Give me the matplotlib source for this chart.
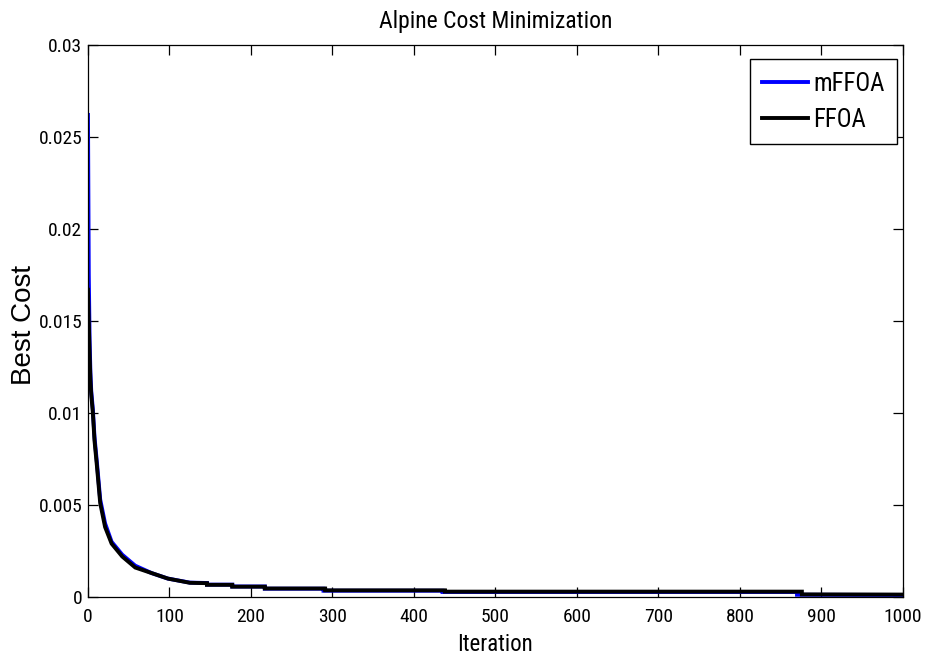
import matplotlib
matplotlib.use("Agg")
import matplotlib.pyplot as plt
from matplotlib import font_manager as fm

# Convergence history (iteration, best cost) for each optimizer
ffoa_iter = [0, 1, 2, 3, 4, 6, 8, 11, 15, 21, 29, 42, 58, 78, 98, 125,
             146, 146, 177, 177, 217, 217, 291, 291, 438, 438, 876, 876, 1000]
ffoa_cost = [0.0167, 0.0150, 0.0132, 0.0118, 0.0110, 0.0100, 0.0085, 0.0071,
             0.0051, 0.0038, 0.0029, 0.0022, 0.0016, 0.0013, 0.0010, 0.00077,
             0.00075, 0.00066, 0.00066, 0.00056, 0.00056, 0.00046, 0.00046,
             0.00036, 0.00036, 0.00029, 0.00029, 0.00014, 0.00013]

mffoa_iter = [0, 1, 2, 3, 4, 6, 8, 11, 15, 21, 29, 42, 58, 78, 98, 125,
              146, 146, 177, 177, 217, 217, 289, 289, 435, 435, 870, 870, 1000]
mffoa_cost = [0.0262, 0.0175, 0.0140, 0.0122, 0.0112, 0.0102, 0.0087, 0.0073,
              0.0053, 0.0040, 0.0030, 0.0023, 0.0017, 0.0013, 0.0010, 0.00078,
              0.00076, 0.00067, 0.00067, 0.00057, 0.00057, 0.00045, 0.00045,
              0.00034, 0.00034, 0.00027, 0.00027, 0.00012, 0.00011]

x_ticks = [0, 100, 200, 300, 400, 500, 600, 700, 800, 900, 1000]
y_ticks = [0, 0.005, 0.01, 0.015, 0.02, 0.025, 0.03]
y_tick_labels = ["0", "0.005", "0.01", "0.015", "0.02", "0.025", "0.03"]


def narrow_font():
    """Return (family, stretch, is_narrow) for a narrow sans face."""
    names = {f.name for f in fm.fontManager.ttflist}
    for n in ("Liberation Sans Narrow", "Arial Narrow", "Roboto Condensed",
              "Open Sans Condensed", "DejaVu Sans Condensed"):
        if n in names:
            return n, "normal", True
    for f in fm.fontManager.ttflist:
        if f.name == "DejaVu Sans" and f.stretch != "normal":
            return "DejaVu Sans", f.stretch, True
    return "Liberation Sans", "normal", False


nfam, nstretch, is_narrow = narrow_font()
tick_fs = 14.0 if is_narrow else 11.7
title_fs = 17.0 if is_narrow else 15.0
xlab_fs = 16.5 if is_narrow else 15.0
leg_fs = 17.8 if is_narrow else 14.6

nfont = dict(family=[nfam, "DejaVu Sans"], stretch=nstretch)

fig = plt.figure(figsize=(9.28, 6.65), dpi=100)
ax = fig.add_axes([0.0948, 0.1023, 0.8782, 0.8300])

ax.plot(mffoa_iter, mffoa_cost, color="#0000ff", lw=2.8, label="mFFOA",
        solid_joinstyle="miter")
ax.plot(ffoa_iter, ffoa_cost, color="black", lw=2.8, label="FFOA",
        solid_joinstyle="miter")

ax.set_xlim(0, 1000)
ax.set_ylim(0, 0.03)
ax.set_xticks(x_ticks)
ax.set_xticklabels([str(t) for t in x_ticks], fontsize=tick_fs, **nfont)
ax.set_yticks(y_ticks)
ax.set_yticklabels(y_tick_labels, fontsize=tick_fs, **nfont)
ax.tick_params(axis="x", direction="in", length=7, width=0.9, top=True,
               pad=8)
ax.tick_params(axis="y", direction="in", length=7, width=0.9, right=True,
               pad=4)
for s in ax.spines.values():
    s.set_linewidth(0.9)

ax.set_title("Alpine Cost Minimization", fontsize=title_fs, pad=12, **nfont)
ax.set_xlabel("Iteration", fontsize=xlab_fs, labelpad=5, **nfont)
ax.set_ylabel("Best Cost", family=["Liberation Sans", "DejaVu Sans"],
              fontsize=20, va="center")
ax.yaxis.set_label_coords(-0.079, 0.493)

# legend geometry in pixels, converted to font-size units
fpx = leg_fs * 100 / 72
leg = ax.legend(loc="upper right", bbox_to_anchor=(0.9926, 0.9746),
                prop={"family": [nfam, "DejaVu Sans"], "stretch": nstretch,
                      "size": leg_fs},
                frameon=True, fancybox=False, handlelength=46 / fpx,
                handletextpad=5 / fpx, borderpad=12.5 / fpx,
                labelspacing=12.3 / fpx, borderaxespad=0)
leg.get_frame().set_edgecolor("black")
leg.get_frame().set_linewidth(1.0)
leg.get_frame().set_alpha(1.0)

fig.savefig("out.png", dpi=100)
